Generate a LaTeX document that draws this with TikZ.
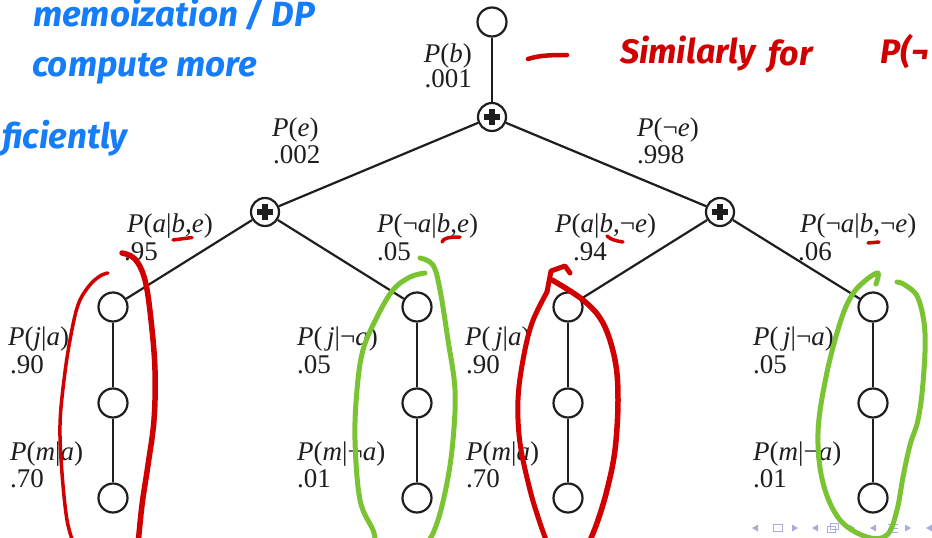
\documentclass[tikz,border=0pt]{standalone}
\usepackage{fontspec}
\setmainfont{Liberation Serif}
\newfontfamily\handfont{Fira Sans}
\definecolor{ink}{RGB}{30,30,30}
\definecolor{hblue}{RGB}{22,125,250}
\definecolor{hred}{RGB}{208,0,0}
\definecolor{hgreen}{RGB}{122,196,52}
\definecolor{navc}{RGB}{172,172,218}
\begin{document}
\begin{tikzpicture}[x=1pt,y=-1pt,
  edge/.style={line width=2.2pt, draw=ink},
  leaf/.style={circle, draw=ink, line width=2.2pt, fill=white, minimum size=29pt, inner sep=0pt},
  plusnode/.style={leaf, minimum size=28pt, path picture={
      \fill[ink] ([xshift=-8pt,yshift=-2.6pt]path picture bounding box.center) rectangle ([xshift=8pt,yshift=2.6pt]path picture bounding box.center);
      \fill[ink] ([xshift=-2.6pt,yshift=-8pt]path picture bounding box.center) rectangle ([xshift=2.6pt,yshift=8pt]path picture bounding box.center);}},
  lbl/.style={font=\fontsize{27}{28}\selectfont, inner sep=0pt, anchor=base west, text=ink},
  lblr/.style={lbl, anchor=base east},
  bluehand/.style={font=\handfont\bfseries\itshape\fontsize{35}{40}\selectfont, text=hblue, inner sep=0pt, anchor=base west},
  redhand/.style={font=\handfont\bfseries\itshape\fontsize{34}{40}\selectfont, text=hred, inner sep=0pt, anchor=base west},
  redstroke/.style={draw=hred, line width=4.5pt, line cap=round, line join=round},
  greenstroke/.style={draw=hgreen, line width=5pt, line cap=round, line join=round},
]
\useasboundingbox (0,0) rectangle (932,538);
\clip (0,0) rectangle (932,538);
\fill[white] (0,0) rectangle (932,538);

% ---- tree nodes ----
\node[leaf] (root) at (492,22) {};
\node[plusnode] (p0) at (492,117) {};
\node[plusnode] (pL) at (265,212) {};
\node[plusnode] (pR) at (720,212) {};
\foreach \n/\x in {a/113,b/417,c/568,d/873}{
  \node[leaf] (\n1) at (\x,307) {};
  \node[leaf] (\n2) at (\x,403) {};
  \node[leaf] (\n3) at (\x,498) {};
}
% ---- connectors ----
\draw[edge] (root) -- (p0);
\draw[edge] (p0) -- (pL);
\draw[edge] (p0) -- (pR);
\draw[edge] (pL) -- (a1);
\draw[edge] (pL) -- (b1);
\draw[edge] (pR) -- (c1);
\draw[edge] (pR) -- (d1);
\foreach \n in {a,b,c,d}{
  \draw[edge] (\n1) -- (\n2);
  \draw[edge] (\n2) -- (\n3);
}

% ---- labels ----
\node[lblr] (lb1) at (472,62) {\textit{P}(\textit{b})};
\node[lblr] (lb2) at (472,87) {.001};
\node[lbl] (le1) at (272,136) {\textit{P}(\textit{e})};
\node[lbl] (le2) at (273,163) {.002};
\node[lbl] (lne1) at (637,136) {\textit{P}(¬\textit{e})};
\node[lbl] (lne2) at (637,163) {.998};
\node[lbl] (la1) at (127,232) {\textit{P}(\textit{a}|\textit{b},\textit{e})};
\node[lbl] (la2) at (124,260) {.95};
\node[lbl] (lna1) at (377,232) {\textit{P}(¬\textit{a}|\textit{b},\textit{e})};
\node[lbl] (lna2) at (377,260) {.05};
\node[lbl] (lan1) at (555,232) {\textit{P}(\textit{a}|\textit{b},¬\textit{e})};
\node[lbl] (lan2) at (573,260) {.94};
\node[lbl] (lnan1) at (800,232) {\textit{P}(¬\textit{a}|\textit{b},¬\textit{e})};
\node[lbl] (lnan2) at (798,260) {.06};
% leaves
\node[lbl] (j1a) at (8,345) {\textit{P}(\textit{j}|\textit{a})};
\node[lbl] (j1b) at (10,373) {.90};
\node[lbl] (m1a) at (10,460) {\textit{P}(\textit{m}|\textit{a})};
\node[lbl] (m1b) at (10,487) {.70};
\node[lbl] (j2a) at (297,345) {\textit{P}(\,\textit{j}|¬\textit{a})};
\node[lbl] (j2b) at (297,373) {.05};
\node[lbl] (m2a) at (297,460) {\textit{P}(\textit{m}|¬\textit{a})};
\node[lbl] (m2b) at (297,487) {.01};
\node[lbl] (j3a) at (465,345) {\textit{P}(\,\textit{j}|\textit{a})};
\node[lbl] (j3b) at (466,373) {.90};
\node[lbl] (m3a) at (466,460) {\textit{P}(\textit{m}|\textit{a})};
\node[lbl] (m3b) at (466,487) {.70};
\node[lbl] (j4a) at (753,345) {\textit{P}(\,\textit{j}|¬\textit{a})};
\node[lbl] (j4b) at (753,373) {.05};
\node[lbl] (m4a) at (753,460) {\textit{P}(\textit{m}|¬\textit{a})};
\node[lbl] (m4b) at (753,487) {.01};

% ---- navigation symbols ----
\fill[navc] (752,528) -- (758,524.5) -- (758,531.5) -- cycle;
\draw[navc, line width=1pt] (773,524) rectangle (782,531);
\fill[navc] (798,528) -- (792,524.5) -- (792,531.5) -- cycle;
\fill[navc] (812,528) -- (818,524.5) -- (818,531.5) -- cycle;
\draw[navc, line width=1pt] (827,526) rectangle (835,532) (830,523) rectangle (838,529);
\fill[navc] (855,528) -- (849,524.5) -- (849,531.5) -- cycle;
\fill[navc] (870,528) -- (876,524.5) -- (876,531.5) -- cycle;
\draw[navc, line width=1pt] (888,524) -- (898,524) (888,528) -- (898,528) (888,532) -- (898,532);
\fill[navc] (911,528) -- (905,524.5) -- (905,531.5) -- cycle;
\fill[navc] (926,528) -- (932,524.5) -- (932,531.5) -- cycle;

% ---- handwritten annotations ----
\node[bluehand] (hb1) at (33,27) {memoization / DP};
\node[bluehand] (hb2) at (32,76) {compute more};
\node[bluehand] (hb3) at (2,148) {ficiently};

\draw[redstroke] (528,59) .. controls (540,55) and (555,55) .. (567,55);
\node[redhand] (hr1) at (620,63) {Similarly};
\node[redhand] (hr2) at (768,65) {for};
\node[redhand] (hr3) at (880,63) {P(¬};

% underline ticks
\draw[redstroke, line width=3.5pt] (173,240) -- (192,237.5);
\draw[redstroke, line width=3.5pt] (442,242) .. controls (443,238) and (450,237) .. (460,237);
\draw[redstroke, line width=3.5pt] (607,236) .. controls (611,240) and (617,241) .. (623,242);
\draw[redstroke, line width=3.5pt] (868,243) -- (879,242);

% red loop column 1
\draw[redstroke, line width=3.5pt] plot[smooth, tension=0.6] coordinates {(108,273) (100,276) (89,286) (78,305) (70,340) (64,380) (60,425) (62,473) (67,520) (74,545)};
\draw[redstroke, line width=5.5pt] plot[smooth, tension=0.6] coordinates {(122,253) (135,259) (145,280) (151,320) (155,370) (154,420) (148,465) (142,505) (138,545)};
% green loop column 2
\draw[greenstroke] plot[smooth, tension=0.6] coordinates {(420,258) (433,265) (440,290) (448,340) (455,390) (453,440) (447,483) (437,523) (425,545) (400,560) (378,545) (373,530) (360,500) (355,440) (357,390) (363,350) (377,317) (393,290) (410,277) (425,273)};
% red loop column 3
\draw[redstroke, line width=5pt] plot[smooth, tension=0.6] coordinates {(548,545) (540,523) (530,490) (520,443) (518,400) (523,360) (532,323) (547,292)};
\draw[redstroke, line width=5pt] (547,292) -- (551,271) -- (565,266) -- (570,273);
\draw[redstroke, line width=5.5pt] plot[smooth, tension=0.6] coordinates {(552,280) (583,300) (603,323) (615,360) (618,400) (615,450) (607,490) (597,523) (588,545)};
% green loop column 4
\draw[greenstroke] plot[smooth, tension=0.6] coordinates {(876,284) (878,273) (866,280) (852,295) (840,323) (826,377) (818,433) (823,483) (840,520) (867,537) (887,535) (897,510) (903,477) (910,445) (918,420) (923,383) (925,333) (918,298) (905,285) (897,282)};
\end{tikzpicture}
\end{document}
